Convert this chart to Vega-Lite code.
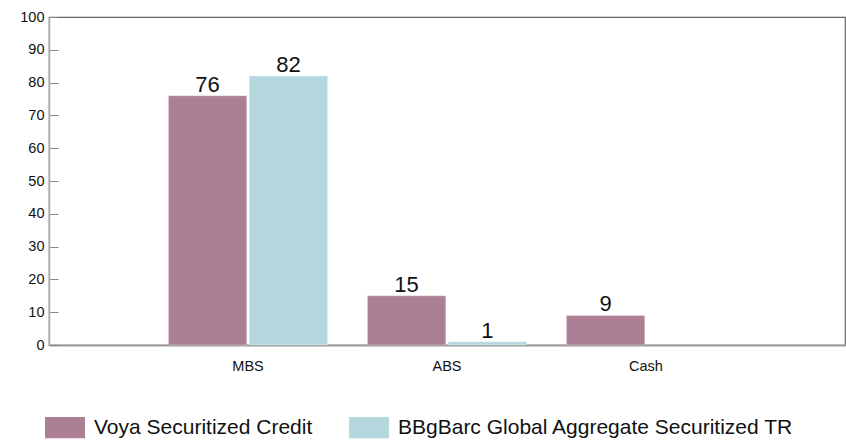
{
  "$schema": "https://vega.github.io/schema/vega-lite/v6.json",
  "width": 796,
  "height": 328,
  "autosize": "none",
  "padding": {"left": 49, "top": 17, "right": 1, "bottom": 95},
  "background": "white",
  "config": {
    "font": "Liberation Sans",
    "view": {"stroke": "#666", "strokeWidth": 1.2},
    "axis": {"labelFont": "Liberation Sans", "labelColor": "#111", "grid": false}
  },
  "data": {
    "values": [
      {"category": "MBS", "series": "Voya Securitized Credit", "value": 76},
      {"category": "MBS", "series": "BBgBarc Global Aggregate Securitized TR", "value": 82},
      {"category": "ABS", "series": "Voya Securitized Credit", "value": 15},
      {"category": "ABS", "series": "BBgBarc Global Aggregate Securitized TR", "value": 1},
      {"category": "Cash", "series": "Voya Securitized Credit", "value": 9}
    ]
  },
  "encoding": {
    "x": {
      "field": "category",
      "type": "nominal",
      "sort": ["MBS", "ABS", "Cash"],
      "scale": {"paddingInner": 0.2, "paddingOuter": 0.6},
      "axis": {
        "title": null,
        "labelAngle": 0,
        "labelFontSize": 14.5,
        "ticks": false,
        "labelPadding": 14,
        "domainColor": "#999",
        "domainWidth": 2
      }
    },
    "xOffset": {
      "field": "series",
      "type": "nominal",
      "sort": ["Voya Securitized Credit", "BBgBarc Global Aggregate Securitized TR"],
      "scale": {"paddingInner": 0.03}
    },
    "y": {
      "field": "value",
      "type": "quantitative",
      "scale": {"domain": [0, 100], "nice": false},
      "axis": {
        "title": null,
        "values": [0, 10, 20, 30, 40, 50, 60, 70, 80, 90, 100],
        "labelFontSize": 14.5,
        "tickSize": -9,
        "tickColor": "#888",
        "domainColor": "#aaa",
        "domainWidth": 1.5,
        "labelPadding": 14
      }
    }
  },
  "layer": [
    {
      "mark": {"type": "bar", "stroke": "white", "strokeWidth": 0.5, "strokeOpacity": 0.6},
      "encoding": {
        "color": {
          "field": "series",
          "type": "nominal",
          "sort": ["Voya Securitized Credit", "BBgBarc Global Aggregate Securitized TR"],
          "scale": {
            "domain": ["Voya Securitized Credit", "BBgBarc Global Aggregate Securitized TR"],
            "range": ["#AD7F95", "#B4D8DE"]
          },
          "legend": {
            "title": null,
            "orient": "none",
            "direction": "horizontal",
            "legendX": -4,
            "legendY": 390.5,
            "padding": 0,
            "symbolType": "M-1,-0.53H1V0.53H-1Z",
            "symbolSize": 1600,
            "symbolStrokeWidth": 0,
            "symbolOpacity": 1,
            "labelFontSize": 21,
            "labelFont": "Liberation Sans",
            "labelColor": "#111",
            "labelLimit": 600,
            "labelOffset": 9,
            "columnPadding": 36
          }
        }
      }
    },
    {
      "mark": {"type": "text", "fontSize": 22, "dy": -4, "baseline": "alphabetic", "color": "#111", "font": "Liberation Sans"},
      "encoding": {
        "text": {"field": "value", "type": "quantitative"}
      }
    }
  ]
}
